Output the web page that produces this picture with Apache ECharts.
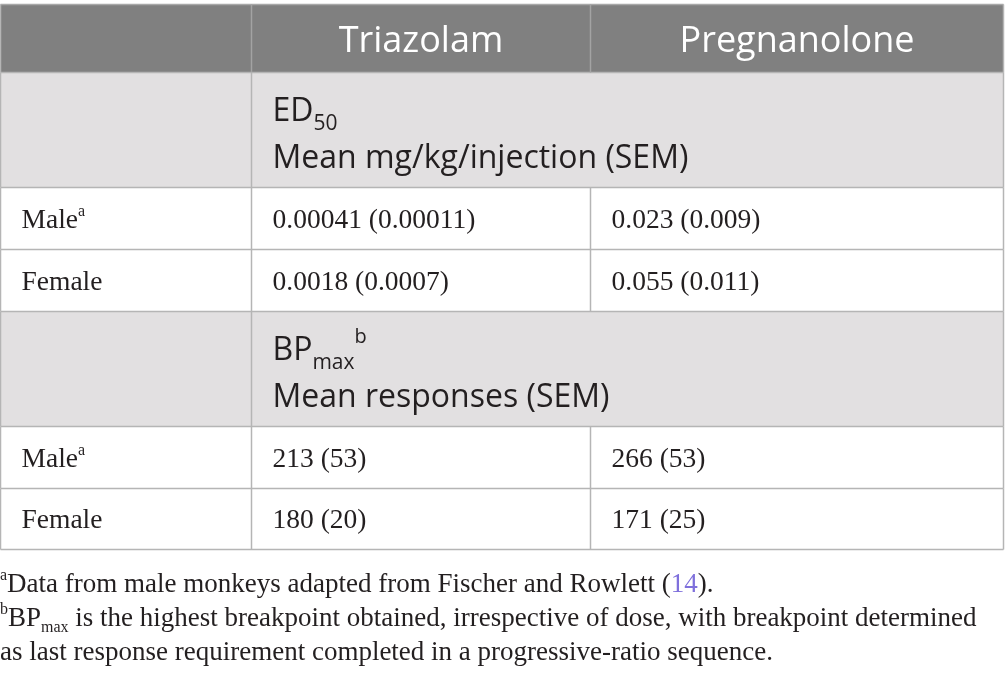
<!DOCTYPE html>
<html>
<head>
<meta charset="utf-8">
<title>ED50 and BPmax table</title>
<script src="https://cdn.jsdelivr.net/npm/echarts@6/dist/echarts.min.js"></script>
<style>
  html, body { margin: 0; padding: 0; background: #fff; }
  #main { width: 1005px; height: 676px; }
</style>
</head>
<body>
<div id="main"></div>
<script>
// table data
const drugs = ['Triazolam', 'Pregnanolone'];
const sexes = ['Male', 'Female'];
const sexMarks = ['a', ''];
const ed50Triazolam = [0.00041, 0.0018];
const ed50TriazolamSem = [0.00011, 0.0007];
const ed50Pregnanolone = [0.023, 0.055];
const ed50PregnanoloneSem = [0.009, 0.011];
const bpTriazolam = [213, 180];
const bpTriazolamSem = [53, 20];
const bpPregnanolone = [266, 171];
const bpPregnanoloneSem = [53, 25];

// layout
const colX = [0.5, 251.5, 590.5, 1003.5];
const rowY = [4.5, 72.5, 187.5, 249.5, 311.5, 426.5, 488.5, 549.5];
const sectionRows = [1, 4];
const headBg = '#808080';
const sectionBg = '#e2e0e1';
const lineColor = '#b5b5b5';
const sans = '"Open Sans", "Noto Sans", sans-serif';
const serif = '"Liberation Serif", "DejaVu Serif", serif';
const ink = '#231f20';

function cellText(mean, sem) { return mean + ' (' + sem + ')'; }

function serifRich(size) {
  return {
    t: { fontFamily: serif, fontSize: size, lineHeight: 34, fill: ink },
    sup: { fontFamily: serif, fontSize: 16, lineHeight: 18, fill: ink, verticalAlign: 'top' },
    sub: { fontFamily: serif, fontSize: 16, lineHeight: 20, fill: ink, verticalAlign: 'bottom' },
    ref: { fontFamily: serif, fontSize: size, lineHeight: 34, fill: '#7f70dc' }
  };
}
const richCell = serifRich(27.5);
const richFoot = serifRich(27);
const richSans = {
  t: { fontFamily: sans, fontSize: 32, lineHeight: 47, fill: ink },
  sub: { fontFamily: sans, fontSize: 21, lineHeight: 28, fill: ink, verticalAlign: 'bottom' },
  sup: { fontFamily: sans, fontSize: 20, lineHeight: 18, fill: ink, verticalAlign: 'top' }
};

const els = [];

// row backgrounds
const rowFill = [headBg, sectionBg, '#fff', '#fff', sectionBg, '#fff', '#fff'];
rowFill.forEach(function (c, i) {
  els.push({ type: 'rect', shape: { x: colX[0], y: rowY[i], width: colX[3] - colX[0], height: rowY[i + 1] - rowY[i] },
    style: { fill: c }, silent: true });
});

// horizontal rules
rowY.forEach(function (y, i) {
  els.push({ type: 'line', shape: { x1: colX[0], y1: y, x2: colX[3], y2: y },
    style: { stroke: i === 0 ? '#a8a8a8' : lineColor, lineWidth: 1.5 }, z: 2 });
});
// vertical rules, per row (section rows span the two drug columns)
for (let r = 0; r < rowY.length - 1; r++) {
  colX.forEach(function (x, j) {
    if (j === 2 && sectionRows.indexOf(r) >= 0) return;
    els.push({ type: 'line', shape: { x1: x, y1: rowY[r], x2: x, y2: rowY[r + 1] },
      style: { stroke: r === 0 && (j === 1 || j === 2) ? '#a3a3a3' : lineColor, lineWidth: 1.5 }, z: 2 });
  });
}

// header
drugs.forEach(function (d, j) {
  els.push({ type: 'text', x: (colX[j + 1] + colX[j + 2]) / 2, y: (rowY[0] + rowY[1]) / 2 + 3, z: 3,
    style: { text: d, fill: '#fff', font: '36px ' + sans, align: 'center', verticalAlign: 'middle' } });
});

// section titles
const sections = [
  { top: sectionRows[0], lines: ['{t|ED}{sub|50}', '{t|Mean mg/kg/injection (SEM)}'] },
  { top: sectionRows[1], lines: ['{t|BP}{sub|max}{sup|b}', '{t|Mean responses (SEM)}'] }
];
sections.forEach(function (s) {
  els.push({ type: 'text', x: colX[1] + 21, y: (rowY[s.top] + rowY[s.top + 1]) / 2 + 5, z: 3,
    style: { text: s.lines.join('\n'), rich: richSans, verticalAlign: 'middle', align: 'left' } });
});

// data rows
const blocks = [
  { top: 2, a: ed50Triazolam, aSem: ed50TriazolamSem, b: ed50Pregnanolone, bSem: ed50PregnanoloneSem },
  { top: 5, a: bpTriazolam, aSem: bpTriazolamSem, b: bpPregnanolone, bSem: bpPregnanoloneSem }
];
blocks.forEach(function (bk) {
  sexes.forEach(function (sx, i) {
    const r = bk.top + i;
    const cy = (rowY[r] + rowY[r + 1]) / 2 + 2;
    const label = '{t|' + sx + '}' + (sexMarks[i] ? '{sup|' + sexMarks[i] + '}' : '');
    els.push({ type: 'text', x: colX[0] + 21, y: cy, z: 3,
      style: { text: label, rich: richCell, verticalAlign: 'middle' } });
    els.push({ type: 'text', x: colX[1] + 21, y: cy, z: 3,
      style: { text: '{t|' + cellText(bk.a[i], bk.aSem[i]) + '}', rich: richCell, verticalAlign: 'middle' } });
    els.push({ type: 'text', x: colX[2] + 21, y: cy, z: 3,
      style: { text: '{t|' + cellText(bk.b[i], bk.bSem[i]) + '}', rich: richCell, verticalAlign: 'middle' } });
  });
});

// footnotes
const footnotes = [
  '{sup|a}{t|Data from male monkeys adapted from Fischer and Rowlett (}{ref|14}{t|).}',
  '{sup|b}{t|BP}{sub|max}{t| is the highest breakpoint obtained, irrespective of dose, with breakpoint determined}',
  '{t|as last response requirement completed in a progressive-ratio sequence.}'
];
const footY = [585, 619, 653];
footnotes.forEach(function (f, i) {
  els.push({ type: 'text', x: 0, y: footY[i], z: 3,
    style: { text: f, rich: richFoot, verticalAlign: 'middle' } });
});

const chart = echarts.init(document.getElementById('main'), null, { renderer: 'canvas' });
chart.setOption({
  animation: false,
  graphic: { elements: els }
});
</script>
</body>
</html>
